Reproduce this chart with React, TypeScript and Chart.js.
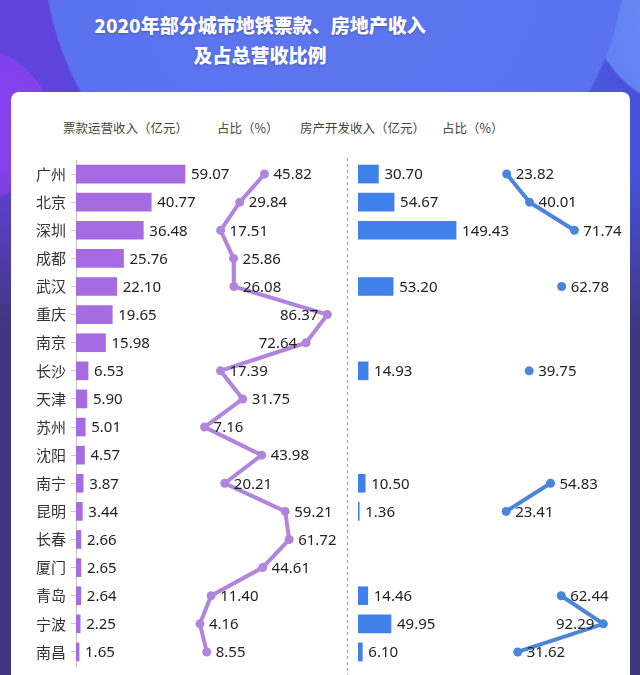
import React, { useEffect, useRef } from 'react';
import { Chart, registerables } from 'chart.js';

Chart.register(...registerables);

const titleLines = ['2020年部分城市地铁票款、房地产收入', '及占总营收比例'];
const headers = ['票款运营收入（亿元）', '占比（%）', '房产开发收入（亿元）', '占比（%）'];
const cities = ['广州', '北京', '深圳', '成都', '武汉', '重庆', '南京', '长沙', '天津', '苏州', '沈阳', '南宁', '昆明', '长春', '厦门', '青岛', '宁波', '南昌'];
const ticketRevenue = [59.07, 40.77, 36.48, 25.76, 22.1, 19.65, 15.98, 6.53, 5.9, 5.01, 4.57, 3.87, 3.44, 2.66, 2.65, 2.64, 2.25, 1.65];
const ticketShare = [45.82, 29.84, 17.51, 25.86, 26.08, 86.37, 72.64, 17.39, 31.75, 7.16, 43.98, 20.21, 59.21, 61.72, 44.61, 11.4, 4.16, 8.55];
const estateRevenue = [30.7, 54.67, 149.43, null, 53.2, null, null, 14.93, null, null, null, 10.5, 1.36, null, null, 14.46, 49.95, 6.1];
const estateShare = [23.82, 40.01, 71.74, null, 62.78, null, null, 39.75, null, null, null, 54.83, 23.41, null, null, 62.44, 92.29, 31.62];

const PURPLE_BAR = '#a66be2';
const PURPLE_LINE = '#b285dc';
const BLUE_BAR = '#3f80ea';
const BLUE_LINE = '#4a85da';
const CJK = '"Noto Sans CJK SC", "Noto Sans", sans-serif';
const NUM = '"Noto Sans", "Noto Sans CJK SC", sans-serif';

export default function App() {
  const canvasRef = useRef<HTMLCanvasElement>(null);

  useEffect(() => {
    const canvas = canvasRef.current;
    if (!canvas) return;

    const labelPlugin = {
      id: 'valueLabels',
      beforeDatasetsDraw(chart: any) {
        const ctx = chart.ctx;
        const dividerX = Math.round(chart.scales.xEstate.getPixelForValue(0) - 11) + 0.5;
        ctx.save();
        ctx.strokeStyle = '#a8a8a8';
        ctx.lineWidth = 1.3;
        ctx.setLineDash([3, 3]);
        ctx.beginPath();
        ctx.moveTo(dividerX, chart.chartArea.top - 2);
        ctx.lineTo(dividerX, chart.height);
        ctx.stroke();
        ctx.restore();
      },
      afterDatasetsDraw(chart: any) {
        const ctx = chart.ctx;
        const dividerX = chart.scales.xEstate.getPixelForValue(0) - 11;
        ctx.save();
        ctx.font = '15px ' + NUM;
        ctx.fillStyle = '#222';
        ctx.textBaseline = 'middle';
        chart.data.datasets.forEach((ds: any, i: number) => {
          const meta = chart.getDatasetMeta(i);
          const isBar = ds.type === 'bar';
          const limit = i === 1 ? dividerX - 4 : chart.width - 8;
          meta.data.forEach((el: any, j: number) => {
            const v = ds.data[j];
            if (v == null) return;
            const text = v.toFixed(2);
            const w = ctx.measureText(text).width;
            let x = el.x + (isBar ? 6 : 9);
            ctx.textAlign = 'left';
            if (!isBar && x + w > limit) {
              x = el.x - 9;
              ctx.textAlign = 'right';
            }
            ctx.fillText(text, x, el.y + 1);
          });
        });
        ctx.restore();
      },
    };

    const chart = new Chart(canvas, {
      type: 'bar',
      data: {
        labels: cities,
        datasets: [
          {
            type: 'bar',
            data: ticketRevenue,
            xAxisID: 'xTicket',
            yAxisID: 'y',
            backgroundColor: PURPLE_BAR,
            barThickness: 18,
            grouped: false,
          },
          {
            type: 'line',
            data: ticketShare,
            xAxisID: 'xTicketShare',
            yAxisID: 'y',
            borderColor: PURPLE_LINE,
            backgroundColor: PURPLE_LINE,
            borderWidth: 4,
            pointRadius: 4.5,
            pointBorderWidth: 0,
            tension: 0,
          },
          {
            type: 'bar',
            data: estateRevenue,
            xAxisID: 'xEstate',
            yAxisID: 'y',
            backgroundColor: BLUE_BAR,
            barThickness: 18,
            grouped: false,
          },
          {
            type: 'line',
            data: estateShare,
            xAxisID: 'xEstateShare',
            yAxisID: 'y',
            borderColor: BLUE_LINE,
            backgroundColor: BLUE_LINE,
            borderWidth: 4,
            pointRadius: 4.5,
            pointBorderWidth: 0,
            spanGaps: false,
            tension: 0,
          },
        ] as any,
      },
      options: {
        indexAxis: 'y',
        responsive: false,
        animation: false,
        layout: { autoPadding: false, padding: { left: 10, right: 20, top: 14, bottom: 14 } },
        plugins: {
          legend: { display: false },
          tooltip: { enabled: false },
          title: { display: false },
        },
        scales: {
          y: {
            type: 'category',
            position: 'left',
            offset: true,
            grid: {
              display: true,
              drawOnChartArea: false,
              drawTicks: true,
              tickLength: 5,
              color: '#c8c8c8',
              offset: false,
            },
            border: { display: true, color: '#c8c8c8' },
            ticks: { color: '#333', font: { size: 15, family: CJK }, padding: 5 },
            afterFit(scale: any) {
              scale.width = 66;
            },
          },
          xTicket: { type: 'linear', display: false, min: 0, max: 294.8 },
          xTicketShare: { type: 'linear', display: false, min: -75.8, max: 275.2 },
          xEstate: { type: 'linear', display: false, min: -431.7, max: 400.1 },
          xEstateShare: { type: 'linear', display: false, min: -281.4, max: 104.1 },
        } as any,
      },
      plugins: [labelPlugin],
    });

    return () => chart.destroy();
  }, []);

  const headerLefts = [63, 217, 300, 442];

  return (
    <div
      style={{
        position: 'absolute',
        top: 0,
        left: 0,
        width: 640,
        height: 675,
        overflow: 'hidden',
        background: [
          'linear-gradient(180deg, rgba(64,54,127,0) 170px, #40367f 330px)',
          'radial-gradient(circle at 335px -50px, #5d77f0 0, #5a72ee 290px, rgba(90,114,238,0) 292px)',
          'radial-gradient(circle at -25px 125px, #8c40f0 0, #8241ec 75px, rgba(130,65,236,0) 77px)',
          'radial-gradient(circle at 700px 0px, #6b8cf6 0, #6282f2 110px, rgba(98,130,242,0) 112px)',
          'linear-gradient(90deg, #6142dc 0%, #5848d8 30%, #4c5ce0 80%, #4852da 100%)',
        ].join(','),
      }}
    >
      <div
        style={{
          position: 'absolute',
          left: 0,
          top: 10,
          width: 520,
          textAlign: 'center',
          color: '#fff',
          fontFamily: CJK,
          fontWeight: 900,
          fontSize: 19,
          lineHeight: '30px',
          textShadow: '0 1px 2px rgba(0,0,0,0.25)',
        }}
      >
        {titleLines.map((t) => (
          <div key={t}>{t}</div>
        ))}
      </div>
      <div
        style={{
          position: 'absolute',
          left: 11,
          top: 92,
          width: 619,
          height: 620,
          background: '#fff',
          borderRadius: 8,
        }}
      />
      {headers.map((h, i) => (
        <div
          key={i}
          style={{
            position: 'absolute',
            left: headerLefts[i],
            top: 119,
            fontFamily: CJK,
            fontSize: 12.5,
            lineHeight: '18px',
            color: '#444',
            whiteSpace: 'nowrap',
          }}
        >
          {h}
        </div>
      ))}
      <canvas
        ref={canvasRef}
        width={640}
        height={534}
        style={{ position: 'absolute', left: 0, top: 146, width: 640, height: 534 }}
      />
    </div>
  );
}
